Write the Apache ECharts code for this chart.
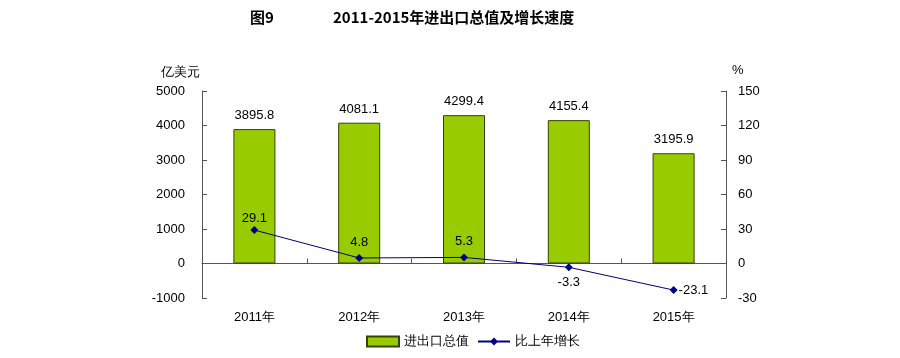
<!DOCTYPE html>
<html><head><meta charset="utf-8">
<script src="https://cdn.jsdelivr.net/npm/echarts@6/dist/echarts.min.js"></script>
<style>html,body{margin:0;padding:0;background:#fff}#c{width:900px;height:358px}</style>
</head><body><div id="c"></div>
<script>
const categories = ['2011年','2012年','2013年','2014年','2015年'];
const totalValues = [3895.8, 4081.1, 4299.4, 4155.4, 3195.9];
const growthValues = [29.1, 4.8, 5.3, -3.3, -23.1];

// label placement (styling, not data)
const growthLabelPos = ['top','top','top','bottom','right'];
const growthLabelDist = [1, 5, 5, 5, 1];

const font = '"Liberation Sans", Arial, sans-serif';
const titleStyle = {fontFamily: '"Noto Sans CJK SC", serif', fontWeight: 'bold', fontSize: 15, color: '#000'};
const chart = echarts.init(document.getElementById('c'));
chart.setOption({
  animation: false,
  title: [
    {text: '图9', left: 245, top: 5, textStyle: titleStyle},
    {text: '2011-2015年进出口总值及增长速度', left: 328, top: 5, textStyle: titleStyle}
  ],
  grid: {left: 202, right: 174, top: 91, bottom: 60},
  legend: {
    bottom: 5, left: 361, itemGap: 8, itemWidth: 32, itemHeight: 10,
    textStyle: {fontFamily: font, fontSize: 13, color: '#000'},
    data: [
      {name: '进出口总值', icon: 'rect'},
      {name: '比上年增长'}
    ]
  },
  xAxis: {
    type: 'category', data: categories,
    axisLine: {onZero: true, lineStyle: {color: '#555', width: 1}},
    axisTick: {show: true, inside: true, length: 5, alignWithLabel: false, lineStyle: {color: '#555'}},
    axisLabel: {margin: 13, fontFamily: font, fontSize: 13, color: '#000'}
  },
  yAxis: [
    {
      type: 'value', min: -1000, max: 5000, interval: 1000,
      name: '亿美元', nameGap: 12, nameTextStyle: {fontFamily: font, fontSize: 13, color: '#000', align: 'right', padding: [0, 2, 0, 0]},
      axisLine: {show: true, lineStyle: {color: '#555'}},
      axisTick: {show: true, inside: true, length: 5, lineStyle: {color: '#555'}},
      axisLabel: {margin: 17, fontFamily: font, fontSize: 13, color: '#000', formatter: v => String(v)},
      splitLine: {show: false}
    },
    {
      type: 'value', min: -30, max: 150, interval: 30, position: 'right',
      name: '%', nameGap: 14, nameTextStyle: {fontFamily: font, fontSize: 13, color: '#000', align: 'left', padding: [0, 0, 0, 6]},
      axisLine: {show: true, lineStyle: {color: '#555'}},
      axisTick: {show: true, inside: true, length: 5, lineStyle: {color: '#555'}},
      axisLabel: {margin: 12, fontFamily: font, fontSize: 13, color: '#000', formatter: v => String(v)},
      splitLine: {show: false}
    }
  ],
  series: [
    {
      name: '进出口总值', type: 'bar', data: totalValues, barWidth: 42,
      itemStyle: {color: '#99cc00', borderColor: '#334400', borderWidth: 1},
      label: {show: true, position: 'top', distance: 7, fontFamily: font, fontSize: 13, color: '#000', formatter: p => p.value.toFixed(1)}
    },
    {
      name: '比上年增长', type: 'line', yAxisIndex: 1,
      data: growthValues.map((v, i) => ({value: v, label: {position: growthLabelPos[i], distance: growthLabelDist[i]}})),
      symbol: 'diamond', symbolSize: 8,
      lineStyle: {color: '#000080', width: 1},
      itemStyle: {color: '#000080'},
      label: {show: true, fontFamily: font, fontSize: 13, color: '#000', formatter: p => p.value.toFixed(1)}
    }
  ]
});
</script></body></html>
